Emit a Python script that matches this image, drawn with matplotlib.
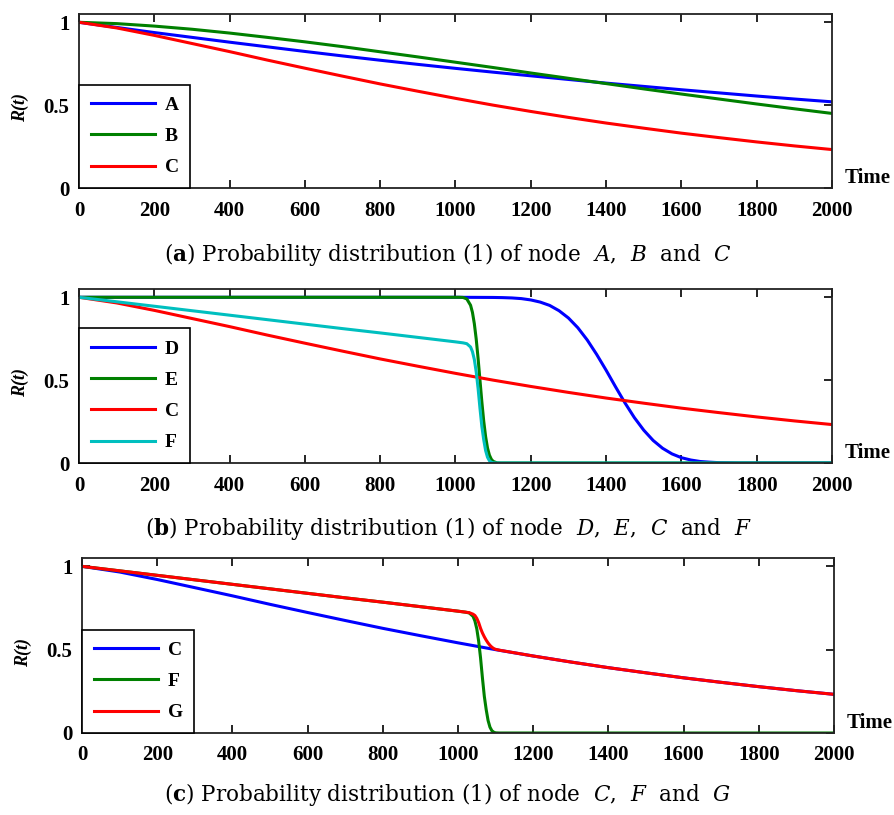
import matplotlib.pyplot as plt

plt.rcParams['mathtext.fontset'] = 'custom'
plt.rcParams['mathtext.rm'] = 'DejaVu Serif'
plt.rcParams['mathtext.it'] = 'DejaVu Serif:italic'
plt.rcParams['mathtext.bf'] = 'DejaVu Serif:bold'

t_100 = [0, 100, 200, 300, 400, 500, 600, 700, 800, 900, 1000,
         1100, 1200, 1300, 1400, 1500, 1600, 1700, 1800, 1900, 2000]
node_a = [1.000, 0.969, 0.938, 0.909, 0.880, 0.852, 0.824, 0.797, 0.771, 0.746, 0.722,
          0.699, 0.677, 0.655, 0.633, 0.613, 0.593, 0.574, 0.555, 0.537, 0.520]
node_b = [1.000, 0.992, 0.977, 0.958, 0.935, 0.909, 0.882, 0.853, 0.822, 0.791, 0.759,
          0.727, 0.694, 0.662, 0.630, 0.598, 0.567, 0.537, 0.507, 0.478, 0.450]
node_c = [1.000, 0.966, 0.921, 0.872, 0.823, 0.772, 0.723, 0.675, 0.628, 0.584, 0.541,
          0.500, 0.462, 0.426, 0.392, 0.361, 0.331, 0.304, 0.278, 0.254, 0.232]

t_d = [0, 1000, 1100, 1125, 1150, 1175, 1200, 1225, 1250, 1275, 1300, 1325, 1350,
       1375, 1400, 1425, 1450, 1475, 1500, 1525, 1550, 1575, 1600, 1625, 1650,
       1675, 1700, 1750, 1800, 2000]
node_d = [1.000, 1.000, 0.999, 0.998, 0.996, 0.992, 0.984, 0.971, 0.951, 0.919, 0.875,
          0.816, 0.742, 0.655, 0.560, 0.460, 0.363, 0.274, 0.198, 0.136, 0.089,
          0.055, 0.032, 0.018, 0.009, 0.005, 0.002, 0.000, 0.000, 0.000]

t_e = [0, 1000, 1010, 1020, 1030, 1040, 1045, 1050, 1055, 1060, 1065, 1070, 1075,
       1080, 1085, 1090, 1095, 1100, 1110, 1120, 2000]
node_e = [1.000, 1.000, 1.000, 0.999, 0.990, 0.952, 0.909, 0.841, 0.748, 0.631, 0.500,
          0.369, 0.252, 0.159, 0.091, 0.048, 0.023, 0.010, 0.001, 0.000, 0.000]

t_f = [0, 100, 200, 300, 400, 500, 600, 700, 800, 900, 1000, 1010, 1020, 1030, 1040,
       1045, 1050, 1055, 1060, 1065, 1070, 1075, 1080, 1085, 1090, 1095, 1100, 1110, 2000]
node_f = [1.000, 0.973, 0.946, 0.919, 0.892, 0.865, 0.838, 0.811, 0.785, 0.758, 0.731,
          0.728, 0.725, 0.720, 0.700, 0.672, 0.625, 0.550, 0.450, 0.330, 0.220, 0.140,
          0.075, 0.035, 0.014, 0.005, 0.001, 0.000, 0.000]

t_g = [0, 100, 200, 300, 400, 500, 600, 700, 800, 900, 1000, 1020, 1030, 1040, 1045,
       1050, 1055, 1060, 1065, 1070, 1075, 1080, 1085, 1090, 1095, 1100, 1110,
       1200, 1300, 1400, 1500, 1600, 1700, 1800, 1900, 2000]
node_g = [1.000, 0.973, 0.946, 0.919, 0.892, 0.865, 0.838, 0.811, 0.785, 0.758, 0.731,
          0.725, 0.722, 0.713, 0.705, 0.688, 0.662, 0.628, 0.600, 0.577, 0.557, 0.540,
          0.526, 0.515, 0.507, 0.502, 0.497, 0.462, 0.426, 0.392, 0.361, 0.331, 0.304,
          0.278, 0.254, 0.232]

captions = [
    r'($\mathbf{a}$) Probability distribution (1) of node  $A$,  $B$  and  $C$',
    r'($\mathbf{b}$) Probability distribution (1) of node  $D$,  $E$,  $C$  and  $F$',
    r'($\mathbf{c}$) Probability distribution (1) of node  $C$,  $F$  and  $G$',
]

blue, green, red, cyan = '#0000ff', '#008000', '#ff0000', '#00bfbf'
serif = 'Liberation Serif'

W, H = 895, 815
fig = plt.figure(figsize=(W / 100, H / 100), dpi=100)

# axes boxes in pixels: left, top, right, bottom
boxes = [(79, 14, 832, 188), (79, 289, 832, 463), (82, 558, 834, 733)]
axs = []
for l, t, r, b in boxes:
    axs.append(fig.add_axes([l / W, 1 - b / H, (r - l) / W, (b - t) / H]))

lines = [
    [(t_100, node_a, blue, 'A'), (t_100, node_b, green, 'B'), (t_100, node_c, red, 'C')],
    [(t_d, node_d, blue, 'D'), (t_e, node_e, green, 'E'), (t_100, node_c, red, 'C'),
     (t_f, node_f, cyan, 'F')],
    [(t_100, node_c, blue, 'C'), (t_f, node_f, green, 'F'), (t_g, node_g, red, 'G')],
]
caption_y = [255, 529, 795]

for ax, ls, cap, cy in zip(axs, lines, captions, caption_y):
    for x, y, c, lab in ls:
        ax.plot(x, y, color=c, lw=2.2, label=lab)
    ax.set_xlim(0, 2000)
    ax.set_ylim(0, 1.05)
    ax.set_xticks(range(0, 2001, 200))
    ax.set_yticks([0, 0.5, 1])
    ax.set_yticklabels(['0', '0.5', '1'])
    ax.tick_params(direction='in', top=True, right=True, length=6, width=1.2,
                   labelsize=15, pad=7)
    ax.tick_params(axis='x', pad=9)
    for lab in ax.get_xticklabels() + ax.get_yticklabels():
        lab.set_fontfamily(serif)
        lab.set_fontweight('bold')
    for s in ax.spines.values():
        s.set_linewidth(1.3)
        s.set_color('#222222')
    ax.set_ylabel('R(t)', fontsize=13, fontfamily=serif, fontweight='bold', style='italic')
    ax.yaxis.set_label_coords(-0.066, 0.46)
    ax.text(1.017, 0.055, 'Time', transform=ax.transAxes, ha='left', va='center',
            fontsize=15, fontfamily=serif, fontweight='bold')
    leg = ax.legend(loc='lower left', borderaxespad=0, fancybox=False, framealpha=1,
                    edgecolor='black', handlelength=3.3, handletextpad=0.5,
                    labelspacing=0.7, borderpad=0.6,
                    prop={'family': serif, 'weight': 'bold', 'size': 14})
    leg.get_frame().set_linewidth(1.2)
    fig.text(448 / W, 1 - cy / H, cap, ha='center', va='center', fontsize=15.5,
             fontfamily='DejaVu Serif')

fig.savefig('out.png', dpi=100)
